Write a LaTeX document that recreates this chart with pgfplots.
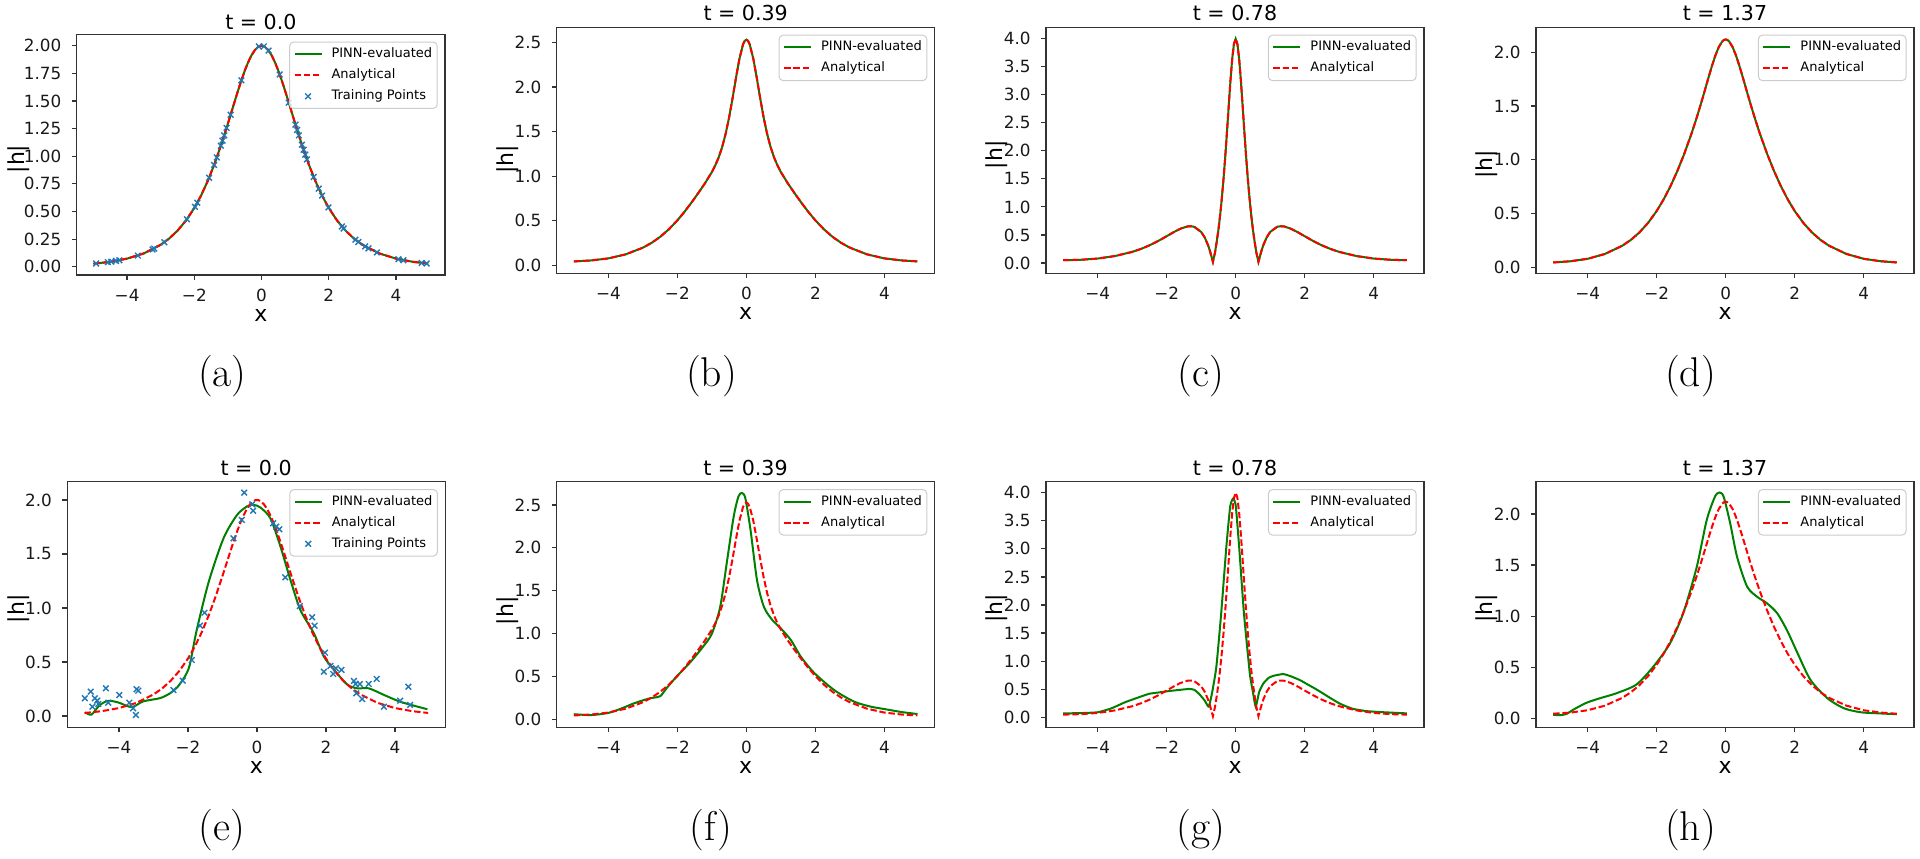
\documentclass[border=0pt]{standalone}
\usepackage{fontspec}
\usepackage{pgfplots}
\pgfplotsset{compat=1.18}
\usepackage{pgfplotstable}
\newfontfamily\dv{DejaVu Sans}
\definecolor{mgreen}{HTML}{008000}
\definecolor{mred}{HTML}{FF0000}
\definecolor{mblue}{HTML}{1F77B4}
\newcommand\tickfont{\dv\fontsize{8.4}{10}\selectfont}
\newcommand\labfont{\dv\fontsize{11}{13}\selectfont}
\newcommand\titfont{\dv\fontsize{10.3}{12}\selectfont}
\newcommand\legfont{\dv\fontsize{6.5}{7.5}\selectfont}

% analytical |h| at t=0, t=0.39, t=1.37
\pgfplotstableread{
x a0 a1 a3
-5.00 0.0270 0.045 0.045
-4.50 0.0444 0.056 0.056
-4.00 0.0732 0.079 0.079
-3.50 0.1207 0.124 0.124
-3.00 0.1987 0.199 0.200
-2.75 0.2547 0.2525 0.2545
-2.50 0.3261 0.3198 0.3243
-2.25 0.4170 0.4039 0.4132
-2.00 0.5316 0.5052 0.5240
-1.80 0.6436 0.5981 0.6307
-1.60 0.7760 0.6999 0.7548
-1.40 0.9298 0.8077 0.8967
-1.20 1.1046 0.9206 1.0566
-1.00 1.2961 1.0464 1.2354
-0.90 1.3956 1.1218 1.3321
-0.80 1.4954 1.2133 1.4339
-0.70 1.5934 1.3288 1.5406
-0.60 1.6871 1.4759 1.6511
-0.50 1.7736 1.6590 1.7630
-0.40 1.8500 1.8743 1.8714
-0.30 1.9133 2.1048 1.9697
-0.20 1.9606 2.3186 2.0493
-0.10 1.9900 2.4731 2.1016
-0.05 1.9975 2.5154 2.1152
0.00 2.0000 2.5298 2.1198
0.05 1.9975 2.5154 2.1152
0.10 1.9900 2.4731 2.1016
0.20 1.9606 2.3186 2.0493
0.30 1.9133 2.1048 1.9697
0.40 1.8500 1.8743 1.8714
0.50 1.7736 1.6590 1.7630
0.60 1.6871 1.4759 1.6511
0.70 1.5934 1.3288 1.5406
0.80 1.4954 1.2133 1.4339
0.90 1.3956 1.1218 1.3321
1.00 1.2961 1.0464 1.2354
1.20 1.1046 0.9206 1.0566
1.40 0.9298 0.8077 0.8967
1.60 0.7760 0.6999 0.7548
1.80 0.6436 0.5981 0.6307
2.00 0.5316 0.5052 0.5240
2.25 0.4170 0.4039 0.4132
2.50 0.3261 0.3198 0.3243
2.75 0.2547 0.2525 0.2545
3.00 0.1987 0.199 0.200
3.50 0.1207 0.124 0.124
4.00 0.0732 0.079 0.079
4.50 0.0444 0.056 0.056
4.96 0.0281 0.045 0.045
}\tabTop

% analytical |h| at t=0.78
\pgfplotstableread{
x a2
-5.00 0.048
-4.50 0.056
-4.00 0.078
-3.50 0.123
-3.00 0.197
-2.75 0.249
-2.50 0.3133
-2.25 0.3903
-2.00 0.4771
-1.80 0.5480
-1.60 0.6112
-1.40 0.6512
-1.30 0.6552
-1.20 0.6441
-1.00 0.5527
-0.90 0.4577
-0.80 0.3153
-0.75 0.2215
-0.70 0.1094
-0.66 0.020
-0.60 0.1833
-0.55 0.3750
-0.50 0.5944
-0.45 0.8557
-0.40 1.1630
-0.35 1.5168
-0.30 1.9174
-0.25 2.3573
-0.20 2.8173
-0.15 3.2632
-0.10 3.6452
-0.05 3.9067
0.00 4.0000
0.05 3.9067
0.10 3.6452
0.15 3.2632
0.20 2.8173
0.25 2.3573
0.30 1.9174
0.35 1.5168
0.40 1.1630
0.45 0.8557
0.50 0.5944
0.55 0.3750
0.60 0.1833
0.66 0.020
0.70 0.1094
0.75 0.2215
0.80 0.3153
0.90 0.4577
1.00 0.5527
1.20 0.6441
1.30 0.6552
1.40 0.6512
1.60 0.6112
1.80 0.5480
2.00 0.4771
2.25 0.3903
2.50 0.3133
2.75 0.249
3.00 0.197
3.50 0.123
4.00 0.078
4.50 0.056
4.96 0.048
}\tabC

% training points (a)
\pgfplotstableread{
x y
-4.92 0.0292
-4.57 0.0414
-4.47 0.0458
-4.33 0.0527
-4.23 0.0582
-3.68 0.1008
-3.24 0.1564
-3.19 0.1644
-2.89 0.2216
-2.22 0.4294
-1.98 0.5419
-1.91 0.5796
-1.56 0.8050
-1.41 0.9216
-1.33 0.9887
-1.21 1.0954
-1.16 1.1417
-1.11 1.1891
-1.04 1.2568
-0.92 1.3756
-0.60 1.6871
-0.08 1.9936
0.07 1.9951
0.21 1.9567
0.54 1.7401
0.81 1.4854
1.01 1.2863
1.06 1.2373
1.11 1.1891
1.20 1.1046
1.25 1.0591
1.30 1.0148
1.35 0.9711
1.55 0.8124
1.70 0.7071
1.80 0.6436
1.99 0.5368
2.39 0.3635
2.44 0.3460
2.79 0.2448
2.88 0.2238
3.08 0.1835
3.18 0.1661
3.43 0.1294
4.07 0.0683
4.22 0.0588
4.76 0.0343
4.91 0.0295
}\tabTPa

% training points (e)
\pgfplotstableread{
x y
-4.99 0.164
-4.82 0.225
-4.77 0.086
-4.70 0.164
-4.63 0.142
-4.60 0.111
-4.38 0.256
-4.31 0.123
-3.99 0.194
-3.70 0.123
-3.59 0.071
-3.51 0.009
-3.49 0.247
-3.44 0.234
-2.42 0.240
-2.15 0.327
-1.89 0.518
-1.65 0.836
-1.52 0.956
-0.68 1.645
-0.44 1.815
-0.37 2.068
-0.14 1.960
-0.11 1.900
0.47 1.784
0.56 1.753
0.65 1.728
0.82 1.284
1.24 1.018
1.60 0.914
1.67 0.836
1.97 0.586
1.94 0.410
2.13 0.463
2.21 0.389
2.29 0.442
2.45 0.426
2.81 0.324
2.86 0.296
2.98 0.296
2.88 0.210
3.05 0.157
3.24 0.296
3.47 0.343
3.68 0.086
4.15 0.142
4.39 0.271
4.44 0.102
}\tabTPe

% PINN (e)
\pgfplotstableread{
x y
-4.98 0.035
-4.80 0.012
-4.56 0.100
-4.31 0.140
-4.02 0.125
-3.63 0.082
-3.30 0.135
-2.81 0.165
-2.52 0.210
-2.30 0.270
-2.10 0.360
-1.95 0.470
-1.75 0.790
-1.40 1.240
-0.97 1.645
-0.58 1.860
-0.29 1.940
-0.10 1.955
0.10 1.930
0.39 1.830
0.68 1.570
0.97 1.260
1.26 0.980
1.65 0.765
1.94 0.550
2.23 0.430
2.62 0.290
2.91 0.256
3.24 0.256
3.68 0.195
4.17 0.130
4.94 0.062
}\tabPe

% PINN (f)
\pgfplotstableread{
x y
-5.00 0.060
-4.50 0.050
-4.00 0.075
-3.60 0.130
-3.30 0.180
-3.05 0.215
-2.80 0.245
-2.50 0.270
-2.32 0.360
-2.02 0.500
-1.64 0.660
-1.25 0.850
-1.00 1.000
-0.76 1.310
-0.57 1.820
-0.37 2.360
-0.23 2.600
-0.13 2.640
-0.03 2.580
0.12 2.210
0.31 1.620
0.51 1.310
0.75 1.160
1.00 1.060
1.29 0.925
1.58 0.730
1.97 0.540
2.55 0.340
3.13 0.205
3.62 0.147
4.00 0.120
4.50 0.085
4.96 0.062
}\tabPf

% PINN (g)
\pgfplotstableread{
x y
-5.00 0.070
-4.50 0.075
-4.00 0.090
-3.60 0.160
-3.20 0.270
-2.70 0.380
-2.50 0.420
-2.20 0.445
-1.90 0.470
-1.60 0.490
-1.35 0.505
-1.20 0.490
-1.05 0.410
-0.90 0.300
-0.78 0.190
-0.68 0.450
-0.56 0.900
-0.42 1.850
-0.27 3.040
-0.16 3.750
-0.08 3.890
0.00 3.780
0.10 3.040
0.24 1.850
0.41 0.780
0.50 0.450
0.58 0.190
0.68 0.450
0.80 0.600
0.95 0.700
1.10 0.740
1.38 0.770
1.60 0.730
1.87 0.660
2.10 0.580
2.36 0.490
2.70 0.360
3.03 0.240
3.40 0.150
3.80 0.110
4.30 0.090
4.96 0.070
}\tabPg

% PINN (h)
\pgfplotstableread{
x y
-5.00 0.035
-4.80 0.030
-4.60 0.045
-4.44 0.080
-4.05 0.150
-3.66 0.195
-3.17 0.245
-2.59 0.330
-2.10 0.505
-1.62 0.730
-1.23 1.030
-0.84 1.480
-0.55 1.940
-0.31 2.170
-0.18 2.210
-0.06 2.170
0.13 1.910
0.33 1.580
0.62 1.290
0.91 1.190
1.20 1.125
1.49 1.030
1.78 0.860
2.08 0.640
2.46 0.375
2.95 0.196
3.43 0.098
3.92 0.059
4.41 0.049
4.96 0.040
}\tabPh

\pgfplotsset{
 /pgf/number format/assume math mode=true,
 ylab/.style 2 args={every axis y label/.style={at={(axis description cs:0,0.5)}, xshift=-#1, yshift=-#2, rotate=90, anchor=center, font=\labfont}},
 base/.style={
  scale only axis,
  anchor=south west,
  width=189pt, height=123pt,
  xmin=-5.498, xmax=5.459,
  xtick={-4,-2,0,2,4},
  xticklabels={−4,−2,0,2,4},
  tick pos=left,
  tick align=outside,
  major tick length=2.5pt,
  tick style={black!80, line width=0.6pt},
  axis line style={black!80, line width=0.6pt},
  tick label style={font=\tickfont, text=black!90},
  xticklabel style={anchor=north, inner sep=0pt, yshift=-4.2pt},
  yticklabel style={anchor=east, inner sep=0pt, xshift=-5pt},
  every axis x label/.style={at={(axis description cs:0.5,0)}, anchor=base, yshift=-23pt, font=\labfont},
  xlabel={x}, ylabel={|h|},
  legend cell align=left,
  legend style={at={(axis description cs:1,1)}, anchor=north east, xshift=-3.7pt, yshift=-3.7pt,
    font=\legfont, draw=black!20, line width=0.5pt, fill=white, fill opacity=0.8, draw opacity=1,
    text opacity=1, rounded corners=2pt, inner xsep=2pt, inner ysep=2.5pt, row sep=3.3pt, column sep=4pt,
    nodes={inner sep=0.5pt, text height=4.8pt, text depth=1.4pt}},
  legend image code/.code={\draw[mark repeat=2,mark phase=2,##1] plot coordinates {(0pt,0pt) (6.75pt,0pt) (13.5pt,0pt)};},
 },
 pinn/.style={color=mgreen, line width=1pt, mark=none},
 ana/.style={color=mred, line width=1pt, dash pattern=on 3.2pt off 1.4pt, mark=none},
 tp/.style={only marks, mark=x, mark size=2pt, color=mblue, mark options={line width=0.7pt, solid}},
 dec1/.style={yticklabel style={/pgf/number format/fixed, /pgf/number format/fixed zerofill, /pgf/number format/precision=1}},
 dec2/.style={yticklabel style={/pgf/number format/fixed, /pgf/number format/fixed zerofill, /pgf/number format/precision=2}},
}

\begin{document}
\begin{tikzpicture}
\path[use as bounding box] (0pt,0pt) rectangle (960pt,429pt);

% (a)
\begin{axis}[base, at={(38.35pt,291.5pt)}, width=184.2pt, height=120.4pt,
  ymin=-0.075, ymax=2.105, ytick={0,0.25,0.5,0.75,1,1.25,1.5,1.75,2}, dec2,
  ylab={29pt}{2.2pt}]
\addplot[pinn] table[x=x,y=a0]{\tabTop}; \addlegendentry{PINN-evaluated}
\addplot[ana] table[x=x,y=a0]{\tabTop}; \addlegendentry{Analytical}
\addplot[tp] table[x=x,y=y]{\tabTPa}; \addlegendentry{Training Points}
\end{axis}

% (b)
\begin{axis}[base, at={(278.35pt,292.35pt)},
  ymin=-0.088, ymax=2.668, ytick={0,0.5,1,1.5,2,2.5}, dec1, ylab={24.5pt}{4.4pt}]
\addplot[pinn] table[x=x,y=a1]{\tabTop}; \addlegendentry{PINN-evaluated}
\addplot[ana] table[x=x,y=a1]{\tabTop}; \addlegendentry{Analytical}
\end{axis}

% (c)
\begin{axis}[base, at={(523pt,292.35pt)},
  ymin=-0.185, ymax=4.205, ytick={0,0.5,1,1.5,2,2.5,3,3.5,4}, dec1, ylab={24.5pt}{2.2pt}]
\addplot[pinn] table[x=x,y=a2]{\tabC}; \addlegendentry{PINN-evaluated}
\addplot[ana] table[x=x,y=a2]{\tabC}; \addlegendentry{Analytical}
\end{axis}

% (d)
\begin{axis}[base, at={(768pt,292.35pt)},
  ymin=-0.056, ymax=2.233, ytick={0,0.5,1,1.5,2}, dec1, ylab={24.5pt}{7pt}]
\addplot[pinn] table[x=x,y=a3]{\tabTop}; \addlegendentry{PINN-evaluated}
\addplot[ana] table[x=x,y=a3]{\tabTop}; \addlegendentry{Analytical}
\end{axis}

% (e)
\begin{axis}[base, at={(33.65pt,65.35pt)}, height=122.8pt,
  ymin=-0.105, ymax=2.169, ytick={0,0.5,1,1.5,2}, dec1, ylab={24.5pt}{2.2pt}]
\addplot[pinn, smooth, tension=0.45] table[x=x,y=y]{\tabPe}; \addlegendentry{PINN-evaluated}
\addplot[ana] table[x=x,y=a0]{\tabTop}; \addlegendentry{Analytical}
\addplot[tp] table[x=x,y=y]{\tabTPe}; \addlegendentry{Training Points}
\end{axis}

% (f)
\begin{axis}[base, at={(278.35pt,65.35pt)}, height=122.8pt,
  ymin=-0.093, ymax=2.772, ytick={0,0.5,1,1.5,2,2.5}, dec1, ylab={24.5pt}{3.2pt}]
\addplot[pinn, smooth, tension=0.45] table[x=x,y=y]{\tabPf}; \addlegendentry{PINN-evaluated}
\addplot[ana] table[x=x,y=a1]{\tabTop}; \addlegendentry{Analytical}
\end{axis}

% (g)
\begin{axis}[base, at={(523pt,65.35pt)}, height=122.8pt,
  ymin=-0.178, ymax=4.195, ytick={0,0.5,1,1.5,2,2.5,3,3.5,4}, dec1, ylab={24.5pt}{1.9pt}]
\addplot[pinn, smooth, tension=0.3] table[x=x,y=y]{\tabPg}; \addlegendentry{PINN-evaluated}
\addplot[ana] table[x=x,y=a2]{\tabC}; \addlegendentry{Analytical}
\end{axis}

% (h)
\begin{axis}[base, at={(768pt,65.35pt)}, height=122.8pt,
  ymin=-0.088, ymax=2.316, ytick={0,0.5,1,1.5,2}, dec1, ylab={24.5pt}{1.9pt}]
\addplot[pinn, smooth, tension=0.45] table[x=x,y=y]{\tabPh}; \addlegendentry{PINN-evaluated}
\addplot[ana] table[x=x,y=a3]{\tabTop}; \addlegendentry{Analytical}
\end{axis}

% panel titles
\begin{scope}[every node/.style={font=\titfont, anchor=base}]
\node at (130.45pt,414.35pt) {t = 0.0};
\node at (372.85pt,418.65pt) {t = 0.39};
\node at (617.5pt,418.65pt) {t = 0.78};
\node at (862.5pt,418.65pt) {t = 1.37};
\node at (128.05pt,191.5pt) {t = 0.0};
\node at (372.75pt,191.5pt) {t = 0.39};
\node at (617.5pt,191.5pt) {t = 0.78};
\node at (862.5pt,191.5pt) {t = 1.37};
\end{scope}

% sub-figure captions
\begin{scope}[every node/.style={font=\fontsize{20.8}{25}\selectfont}]
\node at (111.2pt,241.1pt) {(a)};
\node at (355.8pt,241.1pt) {(b)};
\node at (600.4pt,241.1pt) {(c)};
\node at (845.3pt,241.1pt) {(d)};
\node at (111pt,14pt) {(e)};
\node at (355.4pt,14pt) {(f)};
\node at (600.4pt,14pt) {(g)};
\node at (845.3pt,14pt) {(h)};
\end{scope}
\end{tikzpicture}
\end{document}
